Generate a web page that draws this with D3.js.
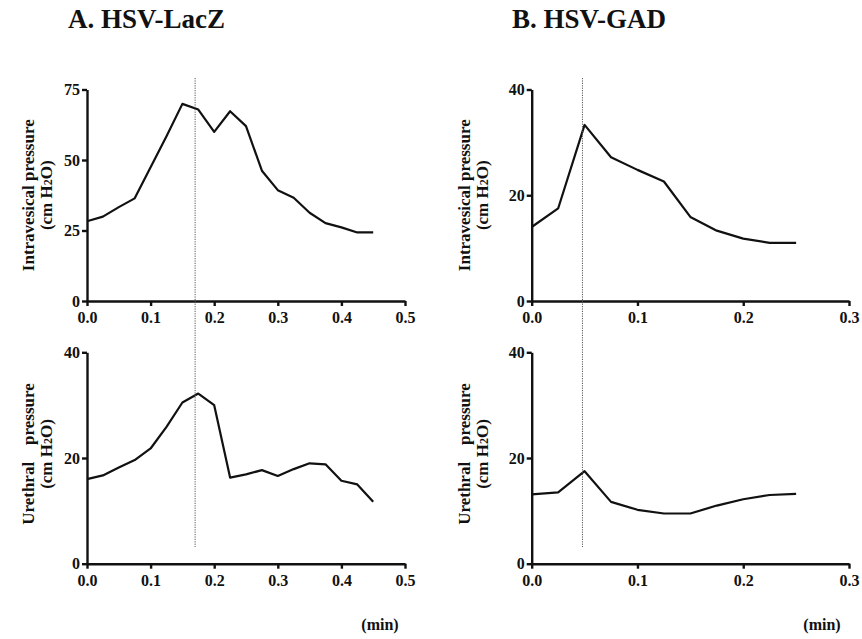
<!DOCTYPE html>
<html lang="en">
<head>
<meta charset="utf-8">
<title>HSV-LacZ vs HSV-GAD pressure</title>
<script src="https://cdn.jsdelivr.net/npm/d3@7"></script>
<style>
  body { margin: 0; background: #fff; }
  text { font-family: "Liberation Serif", "Times New Roman", serif; font-weight: bold; fill: #111; }
  .axis path, .axis line { stroke: #111; stroke-width: 2.4; fill: none; }
  .axis text { font-size: 16px; }
  .trace { fill: none; stroke: #111; stroke-width: 2.2; stroke-linejoin: round; }
  .marker { stroke: #555; stroke-width: 1; stroke-dasharray: 1.2 1.2; }
</style>
</head>
<body>
<div id="chart"></div>
<script>
// time points (min)
var timeA = [0, 0.025, 0.05, 0.075, 0.1, 0.125, 0.15, 0.175, 0.2, 0.225, 0.25, 0.275, 0.3, 0.325, 0.35, 0.375, 0.4, 0.425, 0.45];
var timeB = [0, 0.025, 0.05, 0.075, 0.1, 0.125, 0.15, 0.175, 0.2, 0.225, 0.25];

// A. HSV-LacZ
var vesicalA  = [28.3, 29.9, 33.3, 36.4, 47.4, 58.4, 69.9, 67.9, 60.0, 67.3, 62.0, 46.2, 39.3, 36.6, 31.3, 27.6, 26.1, 24.3, 24.3];
var urethralA = [16.0, 16.7, 18.2, 19.6, 21.8, 25.9, 30.5, 32.2, 30.0, 16.3, 16.9, 17.7, 16.6, 17.9, 19.0, 18.8, 15.7, 15.0, 11.7];

// B. HSV-GAD
var vesicalB  = [14.0, 17.5, 33.3, 27.2, 24.8, 22.6, 15.9, 13.3, 11.8, 11.0, 11.0];
var urethralB = [13.1, 13.5, 17.5, 11.7, 10.2, 9.5, 9.5, 11.0, 12.2, 13.0, 13.2];

var ticksXA = [0, 0.1, 0.2, 0.3, 0.4, 0.5];
var ticksXB = [0, 0.1, 0.2, 0.3];
var ticksVesicalA = [0, 25, 50, 75];
var ticksForty = [0, 20, 40];

var markerA = 0.17, markerB = 0.048;

var W = 862, H = 639;
var svg = d3.select("#chart").append("svg").attr("width", W).attr("height", H);

// titles
svg.append("text").attr("x", 68).attr("y", 28).attr("font-size", 27).text("A. HSV-LacZ");
svg.append("text").attr("x", 512).attr("y", 28).attr("font-size", 27).text("B. HSV-GAD");

var columns = [
  {left: 87, right: 405, xMax: 0.5, xt: ticksXA, t: timeA, marker: markerA,
   top: {y: vesicalA, yMax: 75, yt: ticksVesicalA, label: "Intravesical pressure"},
   bottom: {y: urethralA, yMax: 40, yt: ticksForty, label: "Urethral\u00a0\u00a0\u00a0\u00a0pressure"},
   labelX: 28, minX: 380},
  {left: 531.7, right: 849, xMax: 0.3, xt: ticksXB, t: timeB, marker: markerB,
   top: {y: vesicalB, yMax: 40, yt: ticksForty, label: "Intravesical pressure"},
   bottom: {y: urethralB, yMax: 40, yt: ticksForty, label: "Urethral\u00a0\u00a0\u00a0\u00a0pressure"},
   labelX: 464, minX: 822}
];

var rows = [
  {key: "top", y0: 301, y1: 89.5, shift: 0},
  {key: "bottom", y0: 563.7, y1: 352.3, shift: -4}
];

columns.forEach(function(c) {
  var x = d3.scaleLinear().domain([0, c.xMax]).range([c.left, c.right]);

  rows.forEach(function(r) {
    var p = c[r.key];
    var y = d3.scaleLinear().domain([0, p.yMax]).range([r.y0, r.y1]);

    svg.append("g").attr("class", "axis")
       .attr("transform", "translate(0," + r.y0 + ")")
       .call(d3.axisBottom(x).tickValues(c.xt).tickFormat(d3.format(".1f")).tickSize(5).tickSizeOuter(0).tickPadding(6));

    svg.append("g").attr("class", "axis")
       .attr("transform", "translate(" + c.left + ",0)")
       .call(d3.axisLeft(y).tickValues(p.yt).tickSize(5).tickSizeOuter(0).tickPadding(2));

    var line = d3.line().x(function(d, i) { return x(c.t[i]); }).y(function(d) { return y(d); });
    svg.append("path").datum(p.y).attr("class", "trace").attr("d", line);

    // axis title
    var cy = (r.y0 + r.y1) / 2 + r.shift;
    var g = svg.append("g").attr("transform", "translate(" + c.labelX + "," + cy + ") rotate(-90)");
    g.append("text").attr("text-anchor", "middle").attr("font-size", 17).attr("y", 6).text(p.label);
    g.append("text").attr("text-anchor", "middle").attr("font-size", 17).attr("y", 24)
     .html("(cm H<tspan font-size='12'>2</tspan>O)");
  });

  // dotted marker through both panels
  svg.append("line").attr("class", "marker")
     .attr("x1", x(c.marker)).attr("x2", x(c.marker))
     .attr("y1", 78).attr("y2", 547);

  svg.append("text").attr("x", c.minX).attr("y", 630).attr("text-anchor", "middle")
     .attr("font-size", 16).text("(min)");
});
</script>
</body>
</html>
